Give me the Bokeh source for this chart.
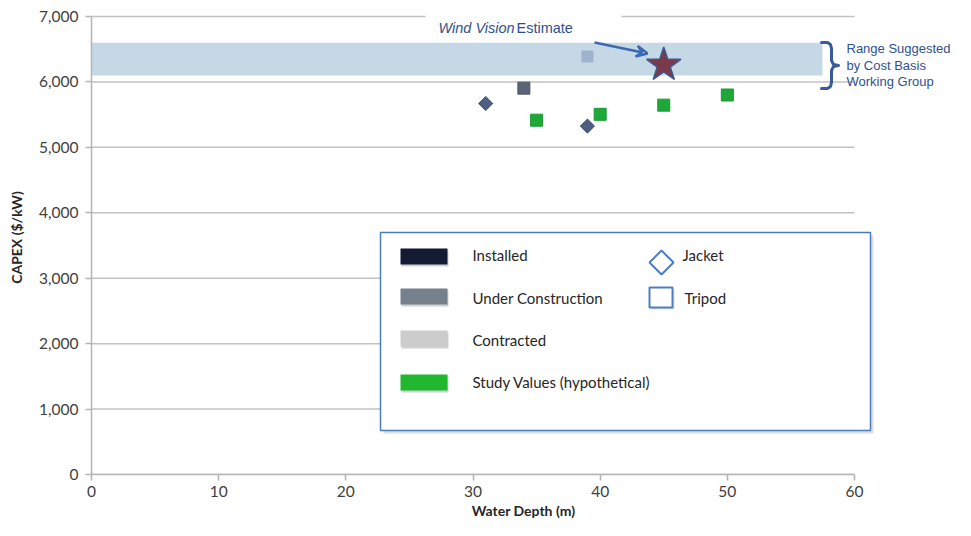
from bokeh.plotting import figure
from bokeh.models import Range1d, FixedTicker, NumeralTickFormatter, Arrow, VeeHead
from bokeh.embed import file_html
from bokeh.resources import INLINE
import numpy as np

# ---------------- data ----------------
x_ticks = [0, 10, 20, 30, 40, 50, 60]
y_ticks = [0, 1000, 2000, 3000, 4000, 5000, 6000, 7000]

jacket_depth = [31, 39]
jacket_capex = [5670, 5325]

uc_tripod_depth = [34]
uc_tripod_capex = [5905]

contracted_tripod_depth = [39]
contracted_tripod_capex = [6390]

study_depth = [35, 40, 45, 50]
study_capex = [5415, 5505, 5645, 5800]

windvision_depth = [45]
windvision_capex = [6260]

range_low = 6100
range_high = 6600

legend_labels = ["Installed", "Under Construction", "Contracted", "Study Values (hypothetical)"]
legend_colors = ["#131b33", "#76808d", "#cccccc", "#21b830"]
shape_labels = ["Jacket", "Tripod"]

# ---------------- layout helpers (canvas pixels -> data) ----------------
W, H = 955, 520
X0, XS = 91.0, 12.7167          # px of x=0, px per metre
Y0 = 474.0                      # px of y=0
YS = (Y0 - 16.0) / 7000.0       # px per $/kW


def px2x(px):
    return (px - X0) / XS


def px2y(py):
    return (Y0 - py) / YS


FONT = "Lato"
ANN = "Liberation Sans"
BLUE_TXT = "#2f5190"

p = figure(frame_width=int(W - X0), frame_height=int(Y0), output_backend="svg", toolbar_location=None,
           x_range=Range1d(0, px2x(W)), y_range=Range1d(0, px2y(0)),
           min_border_left=int(X0), min_border_right=0, min_border_top=0, min_border_bottom=int(H - Y0))
p.outline_line_color = None
p.xgrid.visible = False
p.ygrid.visible = False
p.background_fill_color = "white"
p.border_fill_color = "white"

# axes
for ax in (p.xaxis[0], p.yaxis[0]):
    ax.axis_line_color = "#b4b4b4"
    ax.axis_line_width = 1.5
    ax.major_tick_line_color = "#b4b4b4"
    ax.major_tick_line_width = 1.5
    ax.major_tick_out = 6
    ax.major_tick_in = 0
    ax.minor_tick_line_color = None
    ax.major_label_text_font = FONT
    ax.major_label_text_font_size = "15.5px"
    ax.major_label_text_color = "#404040"
    ax.axis_label_text_font = FONT
    ax.axis_label_text_font_size = "14px"
    ax.axis_label_text_font_style = "bold"
    ax.axis_label_text_color = "#262626"

p.xaxis.ticker = FixedTicker(ticks=x_ticks)
p.xaxis.bounds = (x_ticks[0], x_ticks[-1])
p.xaxis.axis_label = "Water Depth (m)"
p.xaxis.major_label_standoff = 5
p.xaxis.axis_label_standoff = 2

p.yaxis.ticker = FixedTicker(ticks=y_ticks)
p.yaxis.bounds = (y_ticks[0], y_ticks[-1])
p.yaxis.formatter = NumeralTickFormatter(format="0,0")
p.yaxis.axis_label = "CAPEX ($/kW)"
p.yaxis.major_label_standoff = 7
p.yaxis.axis_label_standoff = 11

# grid lines (only over 0..60)
p.segment(x0=[x_ticks[0]] * len(y_ticks), x1=[x_ticks[-1]] * len(y_ticks),
          y0=y_ticks, y1=y_ticks, line_color="#c2c2c2", line_width=1.5)

# white box behind the Wind Vision label (hides part of top gridline)
p.quad(left=px2x(425), right=px2x(621), top=px2y(6), bottom=px2y(39),
       fill_color="white", line_color=None)

# range band
p.quad(left=0, right=px2x(822), bottom=range_low, top=range_high,
       fill_color="#c5d8e6", line_color=None)

# bracket
bx = [821, 827, 830, 831, 831, 833, 838, 833, 831, 831, 830, 827, 821]
by = [42, 42, 44, 48, 60, 64, 65, 66, 70, 82, 86, 88, 88]
p.line([px2x(v) for v in bx], [px2y(v) for v in by], line_color="#3b5a9a",
       line_width=3, line_join="round", line_cap="round")

# range text
for i, t in enumerate(["Range Suggested", "by Cost Basis", "Working Group"]):
    p.text(x=[px2x(846)], y=[px2y(48 + 16.5 * i)], text=[t], text_font={"value": ANN},
           text_font_size="13px", text_color=BLUE_TXT, text_baseline="middle", text_align="left")

# Wind Vision label
p.text(x=[px2x(438)], y=[px2y(27)], text=["Wind Vision"], text_font={"value": ANN},
       text_font_style="italic", text_font_size="14.5px", text_color=BLUE_TXT,
       text_baseline="middle", text_align="left")
p.text(x=[px2x(516)], y=[px2y(27)], text=["Estimate"], text_font={"value": ANN},
       text_font_size="14.5px", text_color=BLUE_TXT, text_baseline="middle", text_align="left")

# data markers
p.scatter(contracted_tripod_depth, contracted_tripod_capex, marker="square", size=12,
          fill_color="#9fb4cc", line_color=None)
p.scatter(uc_tripod_depth, uc_tripod_capex, marker="square", size=12,
          fill_color="#5b6577", line_color="#4d5668", line_width=1)
p.scatter(jacket_depth, jacket_capex, marker="square", size=10, angle=np.pi / 4,
          fill_color="#4c5f80", line_color="#3f5170", line_width=1)
p.scatter(study_depth, study_capex, marker="square", size=12,
          fill_color="#1fa83a", line_color="#1a9a34", line_width=1)
p.scatter(windvision_depth, windvision_capex, marker="star", size=36,
          fill_color="#7a3a4c", line_color="#3f5a8c", line_width=1.5)

# arrow
p.add_layout(Arrow(end=VeeHead(size=11, line_color="#3c69b0", line_width=2.5, fill_color=None),
                   x_start=px2x(594), y_start=px2y(42), x_end=px2x(647), y_end=px2y(53),
                   line_color="#3c69b0", line_width=2.5))

# legend box with shadow
p.quad(left=px2x(383), right=px2x(873), top=px2y(235), bottom=px2y(433),
       fill_color="#c8c8c8", line_color=None, fill_alpha=0.6)
p.quad(left=px2x(380), right=px2x(870), top=px2y(232), bottom=px2y(430),
       fill_color="white", line_color="#4a7ebb", line_width=1.5)

sw_top = [248, 288, 330, 374]
txt_y = [254, 297, 339, 381]
for i, (lab, col) in enumerate(zip(legend_labels, legend_colors)):
    p.quad(left=px2x(401), right=px2x(448), top=px2y(sw_top[i] + 2), bottom=px2y(sw_top[i] + 18),
           fill_color="#bdbdbd", line_color=None, fill_alpha=0.7)
    p.quad(left=px2x(400), right=px2x(447), top=px2y(sw_top[i]), bottom=px2y(sw_top[i] + 16),
           fill_color=col, line_color=None)
    p.text(x=[px2x(472)], y=[px2y(txt_y[i])], text=[lab], text_font={"value": FONT},
           text_font_size="15px", text_color="#262626", text_baseline="middle", text_align="left")

# shape legend
p.scatter([px2x(661)], [px2y(262)], marker="square", size=17, angle=np.pi / 4,
          fill_color="white", line_color="#4f7ec0", line_width=2)
p.quad(left=px2x(651), right=px2x(674), top=px2y(289), bottom=px2y(309),
       fill_color="#c8c8c8", line_color=None, fill_alpha=0.6)
p.quad(left=px2x(649), right=px2x(672), top=px2y(287), bottom=px2y(307),
       fill_color="white", line_color="#4f7ec0", line_width=2)
p.text(x=[px2x(682)], y=[px2y(254)], text=[shape_labels[0]], text_font={"value": FONT},
       text_font_size="15px", text_color="#262626", text_baseline="middle", text_align="left")
p.text(x=[px2x(684)], y=[px2y(297)], text=[shape_labels[1]], text_font={"value": FONT},
       text_font_size="15px", text_color="#262626", text_baseline="middle", text_align="left")

open("out.html", "w").write(file_html(p, INLINE))
